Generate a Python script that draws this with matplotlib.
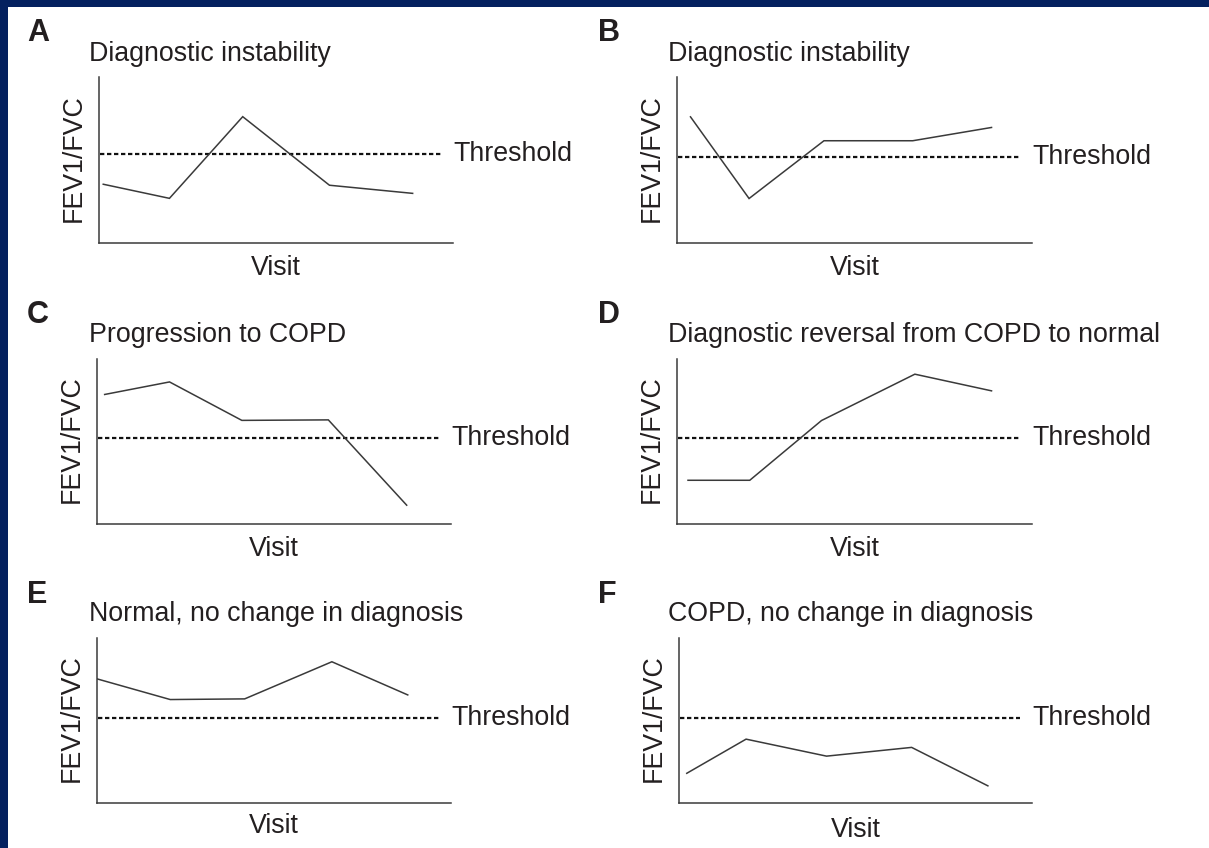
import matplotlib
matplotlib.use("Agg")
import matplotlib.pyplot as plt
from matplotlib.patches import Rectangle

plt.rcParams['font.family'] = ['Liberation Sans', 'DejaVu Sans']

W, H = 1209, 848
TEXT = '#231f20'
LINE = '#3a3a3a'
NAVY = '#04215f'

letters = ['A', 'B', 'C', 'D', 'E', 'F']
titles = [
    'Diagnostic instability',
    'Diagnostic instability',
    'Progression to COPD',
    'Diagnostic reversal from COPD to normal',
    'Normal, no change in diagnosis',
    'COPD, no change in diagnosis',
]

# visit positions (percent of the time axis) and FEV1/FVC (percent of axis range)
visits_a = [1.2, 19.9, 40.6, 65.1, 88.6]
ratio_a = [35.4, 26.9, 76.1, 34.8, 29.9]
visits_b = [3.8, 20.3, 41.4, 66.4, 88.6]
ratio_b = [76.0, 26.8, 61.6, 61.6, 69.6]
visits_c = [2.3, 20.6, 41.0, 65.4, 87.5]
ratio_c = [78.5, 86.1, 62.8, 63.1, 11.4]
visits_d = [3.1, 20.5, 40.7, 67.0, 88.6]
ratio_d = [26.5, 26.5, 62.7, 90.8, 80.7]
visits_e = [0.2, 20.8, 41.8, 66.4, 87.8]
ratio_e = [75.2, 62.7, 63.1, 85.6, 65.5]
visits_f = [2.2, 19.0, 41.8, 65.9, 87.5]
ratio_f = [18.0, 38.7, 28.4, 33.7, 10.4]
thresholds = [53.8, 51.7, 52.2, 52.2, 51.5, 51.5]

visits = [visits_a, visits_b, visits_c, visits_d, visits_e, visits_f]
ratios = [ratio_a, ratio_b, ratio_c, ratio_d, ratio_e, ratio_f]

# axes boxes in pixels: left, right, top, bottom
boxes = [
    (99, 453, 77, 243),
    (677, 1032, 77, 243),
    (96.5, 451, 359, 524),
    (677, 1032, 359, 524),
    (96.5, 451, 638, 803),
    (679, 1032, 638, 803),
]
col_left = [27, 598]
title_left = [89, 668]
row_letter_y = [33, 315, 595]
row_title_y = [54, 335, 614]
visit_gap = [25, 25, 25, 25, 23, 27]

fig = plt.figure(figsize=(W / 100, H / 100), dpi=100)
fig.patch.set_facecolor('white')

# navy frame along the top and left edge
fig.patches.append(Rectangle((0, 1 - 7 / H), 1, 7 / H, transform=fig.transFigure,
                             facecolor=NAVY, edgecolor='none', zorder=0))
fig.patches.append(Rectangle((0, 0), 8 / W, 1, transform=fig.transFigure,
                             facecolor=NAVY, edgecolor='none', zorder=0))


def fx(px):
    return px / W


def fy(py):
    return 1 - py / H


for i in range(6):
    left, right, top, bottom = boxes[i]
    ax = fig.add_axes([fx(left), fy(bottom), (right - left) / W, (bottom - top) / H])
    ax.set_xlim(0, 100)
    ax.set_ylim(0, 100)
    for side in ('top', 'right'):
        ax.spines[side].set_visible(False)
    for side in ('left', 'bottom'):
        ax.spines[side].set_color(LINE)
        ax.spines[side].set_linewidth(1.1)
    ax.set_xticks([])
    ax.set_yticks([])
    ax.patch.set_alpha(0)

    thr = thresholds[i]
    ax.plot([0.4, 96.5], [thr, thr], color='#111111', lw=1.6,
            linestyle=(0, (1.95, 1.2)), dash_capstyle='butt')
    ax.text(100, thr, 'Threshold', fontsize=19.3, color=TEXT,
            ha='left', va='center', clip_on=False)

    ax.plot(visits[i], ratios[i], color=LINE, lw=1.1, solid_joinstyle='miter')

    col = i % 2
    row = i // 2
    fig.text(fx(col_left[col]), fy(row_letter_y[row]), letters[i], fontsize=22,
             fontweight='bold', color=TEXT, ha='left', va='center')
    fig.text(fx(title_left[col]), fy(row_title_y[row]), titles[i], fontsize=19.3,
             color=TEXT, ha='left', va='center')
    fig.text(fx((left + right) / 2), fy(bottom + visit_gap[i]), 'Visit', fontsize=19.3,
             color=TEXT, ha='center', va='center')
    fig.text(fx(left - 25), fy((top + bottom) / 2 - 2), 'FEV1/FVC', fontsize=19.3,
             color=TEXT, ha='center', va='center', rotation=90)

fig.savefig('out.png', dpi=100, facecolor='white')
